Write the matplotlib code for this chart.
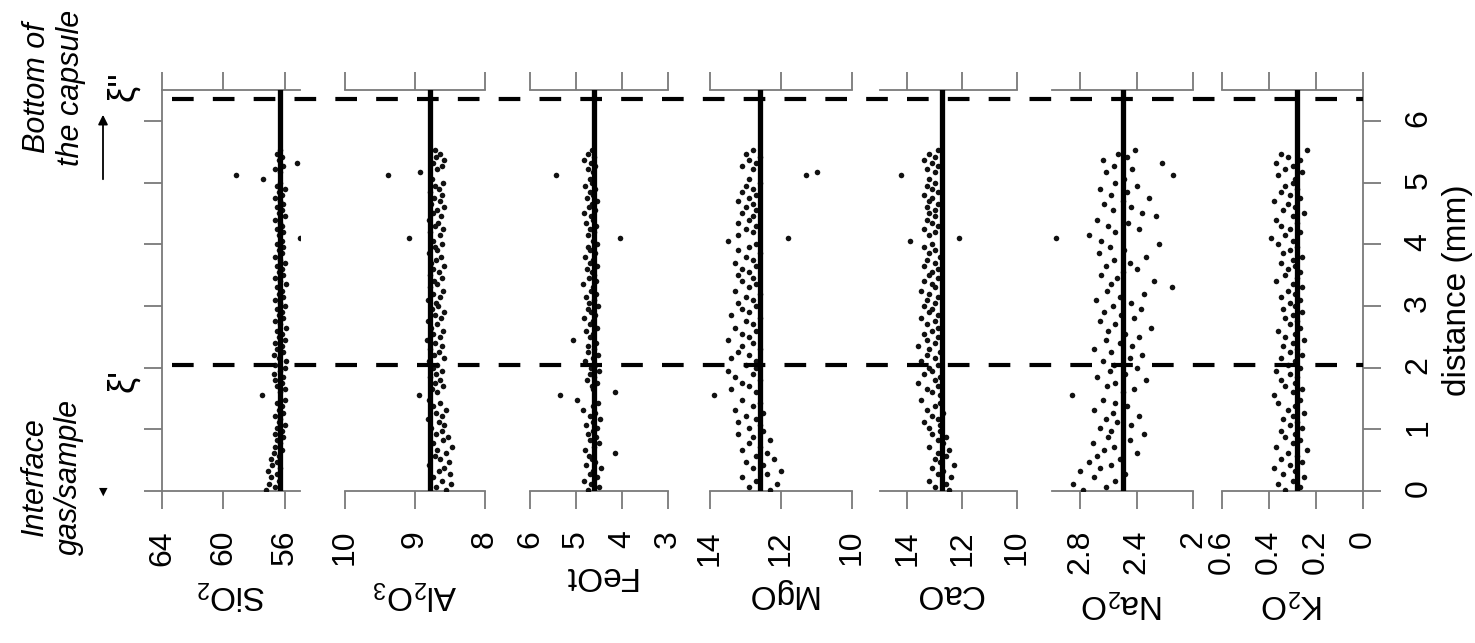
import numpy as np
import matplotlib.pyplot as plt
from matplotlib.patches import FancyArrowPatch

plt.rcParams['font.family'] = ['Liberation Sans', 'DejaVu Sans']
plt.rcParams['mathtext.fontset'] = 'custom'
plt.rcParams['mathtext.rm'] = 'Liberation Sans'
plt.rcParams['mathtext.it'] = 'Liberation Sans:italic'

# analysis positions along the profile (mm), shared by all oxides
distance = [0.02, 0.07, 0.12, 0.17, 0.22, 0.27, 0.32, 0.37, 0.42, 0.47,
            0.52, 0.57, 0.62, 0.67, 0.72, 0.77, 0.82, 0.87, 0.92, 0.97,
            1.02, 1.07, 1.12, 1.17, 1.22, 1.27, 1.32, 1.37, 1.42, 1.47,
            1.55, 1.60, 1.65, 1.70, 1.75, 1.80, 1.85, 1.90, 1.95, 2.00,
            2.05, 2.10, 2.15, 2.20, 2.25, 2.30, 2.35, 2.40, 2.45, 2.50,
            2.55, 2.60, 2.65, 2.70, 2.75, 2.80, 2.85, 2.90, 2.95, 3.00,
            3.05, 3.10, 3.15, 3.20, 3.25, 3.30, 3.35, 3.40, 3.45, 3.50,
            3.55, 3.60, 3.65, 3.70, 3.75, 3.80, 3.85, 3.90, 3.95, 4.00,
            4.05, 4.10, 4.15, 4.20, 4.25, 4.30, 4.35, 4.40, 4.45, 4.50,
            4.55, 4.60, 4.65, 4.70, 4.75, 4.80, 4.85, 4.90, 4.95, 5.00,
            5.05, 5.12, 5.17, 5.22, 5.27, 5.32, 5.37, 5.42, 5.47, 5.52]

sio2 = [57.2, 56.6, 57.0, 56.4, 56.9, 56.5, 57.1, 56.3, 56.8, 56.5,
        56.9, 56.4, 56.7, 56.2, 56.6, 56.3, 56.5, 56.1, 56.6, 56.2,
        56.5, 56.0, 56.4, 56.3, 56.6, 56.1, 56.4, 56.2, 56.5, 56.0,
        57.5, 56.3, 56.0, 56.5, 56.2, 56.6, 56.1, 56.7, 56.3, 56.0,
        56.6, 55.9, 56.4, 56.7, 56.1, 56.5, 56.2, 56.6, 56.0, 56.4,
        56.2, 56.5, 55.9, 56.3, 56.6, 56.1, 56.4, 56.2, 56.5, 56.0,
        56.3, 56.6, 56.1, 56.4, 56.2, 56.5, 55.9, 56.3, 56.6, 56.1,
        56.4, 56.2, 56.5, 56.0, 56.3, 56.6, 56.2, 56.4, 56.1, 56.5,
        56.2, 55.0, 56.4, 56.1, 56.5, 56.2, 56.3, 56.6, 56.0, 56.4,
        56.2, 56.5, 56.1, 56.3, 56.6, 56.2, 56.4, 56.0, 56.5, 56.3,
        57.4, 59.2, 56.3, 56.6, 56.1, 55.2, 56.4, 56.2, 56.5, 56.3]

al2o3 = [8.55, 8.70, 8.48, 8.62, 8.75, 8.50, 8.66, 8.58, 8.80, 8.52,
         8.64, 8.72, 8.56, 8.68, 8.47, 8.74, 8.60, 8.53, 8.70, 8.62,
         8.77, 8.58, 8.66, 8.82, 8.61, 8.70, 8.55, 8.74, 8.65, 8.80,
         8.95, 8.68, 8.76, 8.60, 8.72, 8.64, 8.79, 8.70, 8.62, 8.75,
         8.68, 8.80, 8.58, 8.73, 8.66, 8.78, 8.62, 8.71, 8.83, 8.65,
         8.74, 8.60, 8.77, 8.69, 8.81, 8.63, 8.72, 8.58, 8.76, 8.67,
         8.70, 8.82, 8.64, 8.75, 8.60, 8.78, 8.68, 8.73, 8.62, 8.79,
         8.66, 8.74, 8.59, 8.77, 8.70, 8.63, 8.80, 8.68, 8.72, 8.61,
         8.75, 9.09, 8.65, 8.78, 8.60, 8.72, 8.67, 8.80, 8.63, 8.74,
         8.69, 8.58, 8.77, 8.64, 8.73, 8.61, 8.79, 8.66, 8.71, 8.60,
         8.76, 9.38, 8.93, 8.68, 8.62, 8.74, 8.58, 8.70, 8.65, 8.72]

feot = [4.75, 4.50, 4.68, 4.82, 4.55, 4.70, 4.62, 4.45, 4.78, 4.58,
        4.66, 4.72, 4.16, 4.80, 4.60, 4.50, 4.70, 4.56, 4.74, 4.63,
        4.55, 4.78, 4.62, 4.48, 4.70, 4.58, 4.84, 4.64, 4.52, 4.98,
        5.34, 4.16, 4.62, 4.66, 4.54, 4.76, 4.60, 4.70, 4.50, 4.68,
        4.58, 4.80, 4.64, 4.52, 4.73, 4.60, 4.75, 4.56, 5.06, 4.69,
        4.62, 4.78, 4.55, 4.70, 4.64, 4.82, 4.58, 4.67, 4.74, 4.52,
        4.71, 4.60, 4.79, 4.56, 4.68, 4.63, 4.85, 4.57, 4.72, 4.61,
        4.66, 4.76, 4.54, 4.70, 4.62, 4.80, 4.58, 4.69, 4.73, 4.55,
        4.64, 4.05, 4.75, 4.60, 4.70, 4.57, 4.78, 4.63, 4.68, 4.82,
        4.59, 4.72, 4.65, 4.55, 4.77, 4.62, 4.70, 4.58, 4.80, 4.66,
        4.70, 5.43, 4.62, 4.75, 4.58, 4.68, 4.82, 4.61, 4.73, 4.66]

mgo = [12.3, 12.9, 12.1, 12.7, 13.1, 12.4, 12.0, 12.8, 12.5, 13.0,
       12.2, 12.7, 12.4, 13.1, 12.6, 12.9, 12.3, 12.8, 13.2, 12.5,
       12.9, 12.6, 13.2, 12.7, 13.0, 12.5, 13.3, 12.8, 12.6, 13.1,
       13.9, 12.7, 13.4, 12.9, 13.1, 12.6, 13.3, 12.8, 13.5, 12.7,
       13.0, 12.7, 13.4, 12.9, 13.2, 12.6, 13.1, 12.8, 13.5, 12.9,
       13.1, 12.7, 13.3, 12.8, 13.0, 12.6, 13.4, 12.9, 13.1, 12.7,
       13.2, 12.8, 13.0, 12.6, 13.3, 12.9, 12.7, 13.1, 12.8, 13.2,
       12.9, 13.1, 12.7, 13.3, 12.8, 13.0, 12.6, 13.2, 12.9, 12.7,
       13.5, 11.8, 13.2, 12.8, 13.0, 12.7, 13.2, 12.9, 12.8, 13.1,
       12.7, 13.0, 12.8, 13.2, 12.9, 12.7, 13.1, 12.8, 13.0, 12.6,
       12.9, 11.3, 11.0, 12.8, 13.1, 12.7, 12.9, 12.6, 13.0, 12.8]

cao = [12.5, 13.0, 12.6, 13.2, 12.4, 12.9, 12.7, 13.1, 12.3, 12.8,
       13.0, 12.6, 12.9, 12.5, 13.2, 12.7, 12.9, 12.6, 13.1, 12.8,
       13.2, 12.8, 13.4, 12.9, 13.1, 12.7, 13.3, 13.0, 12.8, 13.5,
       12.8, 13.1, 13.3, 12.9, 13.6, 13.0, 12.8, 13.4, 13.1, 13.2,
       12.9, 13.5, 13.0, 13.3, 12.8, 13.2, 13.6, 13.0, 13.3, 12.9,
       13.4, 13.1, 12.9, 13.3, 13.0, 13.5, 12.9, 13.2, 13.1, 13.4,
       13.0, 13.3, 12.9, 13.2, 13.5, 13.0, 13.1, 13.4, 12.9, 13.2,
       13.1, 12.9, 13.4, 13.0, 13.3, 12.8, 13.2, 13.0, 13.4, 13.1,
       13.9, 12.1, 13.2, 13.0, 13.4, 12.9, 13.1, 13.3, 13.0, 13.2,
       13.0, 13.3, 12.9, 13.2, 13.1, 13.4, 12.9, 13.1, 13.3, 13.0,
       13.2, 14.25, 13.0, 13.3, 12.9, 13.1, 13.4, 13.0, 13.2, 12.9]

na2o = [2.78, 2.62, 2.85, 2.55, 2.70, 2.48, 2.80, 2.66, 2.58, 2.74,
        2.52, 2.68, 2.40, 2.63, 2.56, 2.71, 2.45, 2.60, 2.35, 2.58,
        2.66, 2.44, 2.54, 2.62, 2.38, 2.57, 2.70, 2.47, 2.55, 2.64,
        2.86, 2.50, 2.42, 2.61, 2.55, 2.33, 2.68, 2.48, 2.59, 2.40,
        2.56, 2.64, 2.45, 2.36, 2.58, 2.70, 2.43, 2.52, 2.62, 2.38,
        2.48, 2.60, 2.30, 2.55, 2.66, 2.42, 2.51, 2.63, 2.37, 2.57,
        2.44, 2.69, 2.52, 2.35, 2.61, 2.15, 2.58, 2.28, 2.54, 2.65,
        2.50, 2.40, 2.62, 2.45, 2.56, 2.33, 2.67, 2.49, 2.59, 2.24,
        2.65, 2.97, 2.74, 2.55, 2.38, 2.60, 2.46, 2.68, 2.26, 2.36,
        2.57, 2.44, 2.63, 2.50, 2.31, 2.58, 2.47, 2.66, 2.40, 2.55,
        2.49, 2.14, 2.62, 2.43, 2.56, 2.22, 2.64, 2.47, 2.53, 2.41]

k2o = [0.33, 0.27, 0.36, 0.30, 0.25, 0.34, 0.29, 0.38, 0.31, 0.26,
       0.35, 0.28, 0.32, 0.24, 0.37, 0.30, 0.27, 0.33, 0.29, 0.35,
       0.26, 0.31, 0.28, 0.34, 0.30, 0.25, 0.32, 0.29, 0.36, 0.27,
       0.38, 0.30, 0.26, 0.33, 0.29, 0.35, 0.28, 0.31, 0.37, 0.27,
       0.32, 0.29, 0.35, 0.26, 0.31, 0.28, 0.34, 0.30, 0.25, 0.33,
       0.29, 0.36, 0.27, 0.31, 0.28, 0.33, 0.30, 0.26, 0.34, 0.29,
       0.31, 0.27, 0.35, 0.29, 0.32, 0.26, 0.30, 0.37, 0.28, 0.33,
       0.27, 0.32, 0.29, 0.35, 0.30, 0.26, 0.34, 0.31, 0.28, 0.36,
       0.30, 0.39, 0.33, 0.27, 0.31, 0.35, 0.28, 0.37, 0.30, 0.25,
       0.34, 0.29, 0.32, 0.38, 0.27, 0.31, 0.35, 0.28, 0.33, 0.30,
       0.29, 0.36, 0.26, 0.33, 0.30, 0.37, 0.27, 0.32, 0.35, 0.24]

labels = ['SiO$_2$', 'Al$_2$O$_3$', 'FeOt', 'MgO', 'CaO', 'Na$_2$O', 'K$_2$O']
series = [sio2, al2o3, feot, mgo, cao, na2o, k2o]
means = [56.3, 8.78, 4.6, 12.6, 12.74, 2.5, 0.28]
xlims = [(64, 55), (10, 8), (6, 3), (14, 10), (15, 10), (3.0, 2.0), (0.6, 0.0)]
xticks = [[64, 60, 56], [10, 9, 8], [6, 5, 4, 3], [14, 12, 10], [14, 12, 10],
          [2.8, 2.4, 2.0], [0.6, 0.4, 0.2, 0.0]]
xticklabels = [['64', '60', '56'], ['10', '9', '8'], ['6', '5', '4', '3'],
               ['14', '12', '10'], ['14', '12', '10'], ['2.8', '2.4', '2'],
               ['0.6', '0.4', '0.2', '0']]
dist_ticks = [0, 1, 2, 3, 4, 5, 6]
xi1, xi2 = 2.05, 6.35   # interface positions (mm)

# panel placement in pixels of the 1475x643 canvas
W, H = 1475, 643
ytop, ybot = 90, 491
panel_px = [(162, 300), (345, 485), (530, 668), (710, 852), (880, 1017),
            (1052, 1193), (1222, 1363)]
gray = '#7a7a7a'
fs = 23

fig = plt.figure(figsize=(W / 100, H / 100), dpi=100)

def px_axes(x0, x1):
    return fig.add_axes([x0 / W, 1 - ybot / H, (x1 - x0) / W, (ybot - ytop) / H])

for i in range(7):
    ax = px_axes(*panel_px[i])
    ax.scatter(series[i], distance, s=16, color='#111111', lw=0, zorder=3)
    ax.axvline(means[i], color='black', lw=3.8, zorder=4)
    ax.set_xlim(*xlims[i])
    ax.set_ylim(0, 6.5)
    ax.set_xticks(xticks[i])
    ax.set_xticklabels(xticklabels[i])
    for s in ['left', 'right']:
        ax.spines[s].set_visible(False)
    for s in ['top', 'bottom']:
        ax.spines[s].set_color(gray)
        ax.spines[s].set_linewidth(1.3)
    ax.tick_params(axis='x', top=True, bottom=True, labelbottom=True, labeltop=False,
                   direction='out', length=13, width=1.3, color=gray,
                   labelsize=fs, labelrotation=90, pad=15)
    ax.set_yticks(dist_ticks)
    ax.tick_params(axis='y', left=False, right=False, labelleft=False, labelright=False)
    ax.set_xlabel(labels[i], rotation=180, fontsize=fs + 1, labelpad=9)
    if i == 0:
        ax.spines['left'].set_visible(True)
        ax.spines['left'].set_color(gray)
        ax.spines['left'].set_linewidth(1.3)
        ax.tick_params(axis='y', left=True, direction='out', length=13,
                       width=1.3, color=gray)
    if i == 6:
        ax.spines['right'].set_visible(True)
        ax.spines['right'].set_color(gray)
        ax.spines['right'].set_linewidth(1.3)
        ax.yaxis.tick_right()
        ax.yaxis.set_label_position('right')
        ax.tick_params(axis='y', right=True, labelright=True, direction='out',
                       length=13, width=1.3, color=gray, labelsize=fs,
                       labelrotation=90, pad=16)
        ax.set_ylabel('distance (mm)', fontsize=fs + 1, labelpad=6)

# dashed interface lines across all panels
ov = px_axes(162, 1363)
ov.set_xlim(0, 1)
ov.set_ylim(0, 6.5)
ov.axis('off')
for yv in [xi1, xi2]:
    ov.plot([0.008, 1], [yv, yv], color='black', lw=3, dashes=(5.2, 4.6), zorder=5)

# annotations on the left
fig.text(54 / W, 1 - 88 / H, 'Bottom of\nthe capsule', rotation=90, ha='center',
         va='center', style='italic', fontsize=22, multialignment='center')
fig.text(52 / W, 1 - 477 / H, 'Interface\ngas/sample', rotation=90, ha='center',
         va='center', style='italic', fontsize=22, multialignment='center')
fig.text(124 / W, 1 - 86 / H, "ξ''", rotation=90, ha='center', va='center', fontsize=26)
fig.text(124 / W, 1 - 381 / H, "ξ'", rotation=90, ha='center', va='center', fontsize=26)
fig.add_artist(FancyArrowPatch((103 / W, 1 - 182 / H), (103 / W, 1 - 112 / H),
                               transform=fig.transFigure, arrowstyle='-|>',
                               mutation_scale=14, lw=1.3, color='black'))
fig.text(103 / W, 1 - 492 / H, '▼', ha='center', va='center', fontsize=8,
         family='DejaVu Sans')

fig.savefig('out.png', dpi=100, facecolor='white')
